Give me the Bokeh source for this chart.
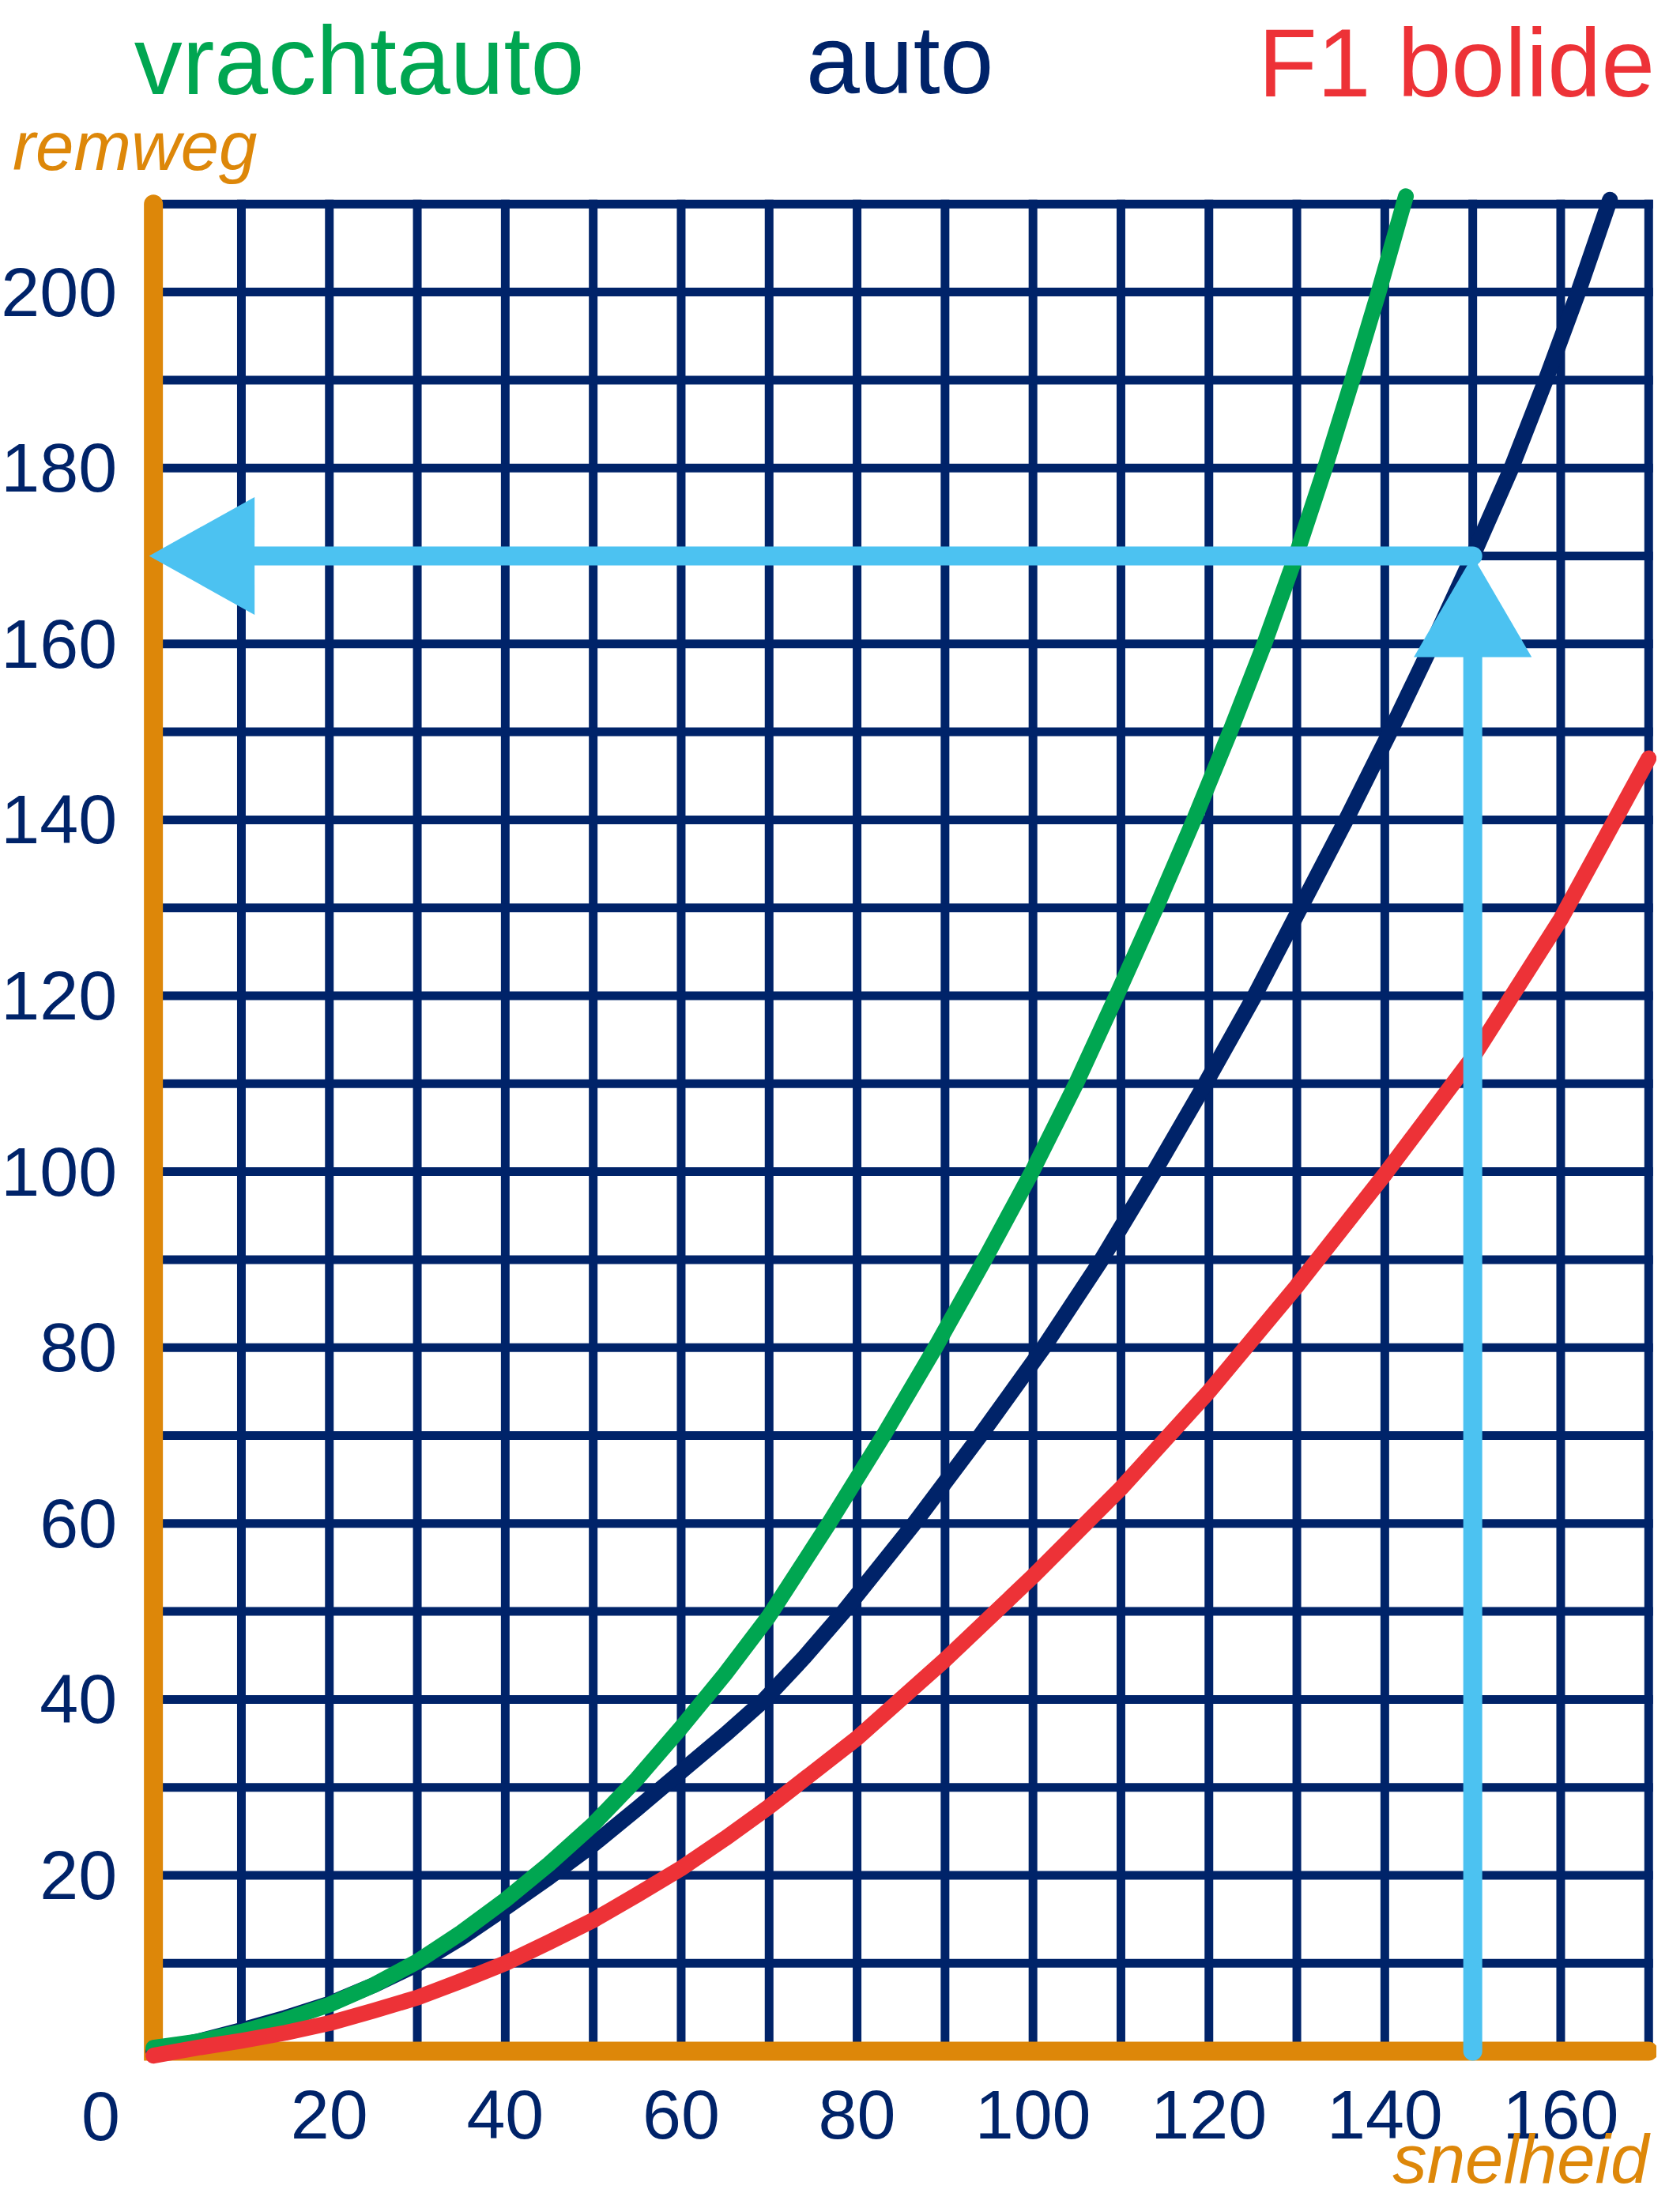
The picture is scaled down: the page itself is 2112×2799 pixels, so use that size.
from bokeh.plotting import figure
from bokeh.models import Label, FixedTicker
from bokeh.embed import file_html
from bokeh.resources import INLINE

# ---------------- data ----------------
# vrachtauto (truck): speed (km/h) -> braking distance (m)
truck_speed = [0, 5, 10, 15, 20, 25, 30, 35, 40, 45, 50, 55, 60, 65, 70,
               76.8, 83.0, 88.9, 94.5, 99.9, 104.9, 109.5, 114.0, 118.3, 122.4,
               126.3, 129.9, 133.2, 136.3, 139.3, 142.4]
truck_dist = [0.4, 1.1, 2.2, 3.6, 5.3, 7.5, 10.2, 13.5, 17.2, 21.3, 25.8, 31, 36.8, 42.9, 49.5,
              60, 70, 80, 90, 100, 110, 120, 130, 140, 150,
              160, 170, 180, 190, 200, 210.9]

# auto (car)
car_speed = [0, 5, 10, 15, 20, 25, 30, 35, 40, 45, 50, 55, 60, 65, 69.5, 74,
             78.5, 86.5, 94, 101.2, 107.8, 113.8, 119.6, 125.2, 130.4, 135.6,
             140.6, 145.4, 150, 154.4, 158.3, 162, 165.6]
car_dist = [0, 1.1, 2.4, 3.8, 5.4, 7.5, 9.9, 12.9, 16.3, 19.8, 23.5, 27.6, 31.8, 36.0, 40, 44.8,
            50, 60, 70, 80, 90, 100, 110, 120, 130, 140,
            150, 160, 170, 180, 190, 200, 210.5]

# F1 bolide
f1_speed = [0, 5, 10, 15, 20, 25, 30, 35, 40, 45, 50, 55, 60, 65, 70,
            80, 90, 100, 110, 120, 130, 140, 150, 160, 170]
f1_dist = [-0.5, 0.4, 1.2, 2.1, 3.2, 4.6, 6.1, 8, 10, 12.4, 14.9, 17.8, 20.8, 24.2, 27.8,
           35.6, 44.5, 54, 64, 75, 87, 99.7, 113, 128.7, 147]

# axis ticks / grid
x_ticks = [20, 40, 60, 80, 100, 120, 140, 160]
y_ticks = [20, 40, 60, 80, 100, 120, 140, 160, 180, 200]
grid_x = [10, 20, 30, 40, 50, 60, 70, 80, 90, 100, 110, 120, 130, 140, 150, 160, 170]
grid_y = [10, 20, 30, 40, 50, 60, 70, 80, 90, 100, 110, 120, 130, 140, 150, 160,
          170, 180, 190, 200, 210]

# reading example (arrow)
read_speed = 150
read_dist = 170

# ---------------- style ----------------
NAVY = "#002369"
GREEN = "#00A651"
RED = "#ED3237"
ORANGE = "#DD8709"
BLUE = "#4CC2F1"
FONT = "Liberation Sans"

x_max = grid_x[-1]
y_max = grid_y[-1]

p = figure(frame_width=2096, frame_height=2783,
           x_range=(-17.40, 170.92), y_range=(-16.88, 233.16),
           output_backend="svg", toolbar_location=None,
           min_border_left=0, min_border_right=0,
           min_border_top=0, min_border_bottom=0)

p.background_fill_color = "white"
p.border_fill_color = "white"
p.outline_line_color = None
p.xgrid.visible = False
p.ygrid.visible = False

for ax, ticks in ((p.xaxis[0], x_ticks), (p.yaxis[0], y_ticks)):
    ax.ticker = FixedTicker(ticks=ticks)
    ax.fixed_location = 0
    ax.axis_line_color = None
    ax.major_tick_line_color = None
    ax.minor_tick_line_color = None
    ax.major_tick_in = 0
    ax.major_tick_out = 0
    ax.major_label_text_font = FONT
    ax.major_label_text_font_size = "88px"
    ax.major_label_text_color = NAVY
p.yaxis[0].major_label_standoff = 46
p.xaxis[0].major_label_standoff = 50

# grid
p.segment(x0=grid_x, y0=[0] * len(grid_x), x1=grid_x, y1=[y_max] * len(grid_x),
          line_width=11, line_color=NAVY, line_cap="square")
p.segment(x0=[0] * len(grid_y), y0=grid_y, x1=[x_max] * len(grid_y), y1=grid_y,
          line_width=11, line_color=NAVY, line_cap="square")

# orange axes
p.line([0, 0, x_max], [y_max, 0, 0], line_width=24, line_color=ORANGE,
       line_cap="round", line_join="miter")

# curves
p.line(car_speed, car_dist, line_width=20, line_color=NAVY,
       line_cap="round", line_join="round")
p.line(truck_speed, truck_dist, line_width=20, line_color=GREEN,
       line_cap="round", line_join="round")
p.line(f1_speed, f1_dist, line_width=20, line_color=RED,
       line_cap="round", line_join="round")

# reading arrows
head_len = 11.5
head_half = 6.7
p.line([head_len, read_speed], [read_dist, read_dist], line_width=24,
       line_color=BLUE, line_cap="round")
p.line([read_speed, read_speed], [0, read_dist - head_len], line_width=24,
       line_color=BLUE, line_cap="round")
p.patches(xs=[[-0.5, head_len, head_len],
              [read_speed, read_speed - head_half, read_speed + head_half]],
          ys=[[read_dist, read_dist + head_half, read_dist - head_half],
              [read_dist, read_dist - head_len, read_dist - head_len]],
          fill_color=BLUE, line_color=None)

# texts
def add_label(x, y, text, color, size, align="left", style="normal"):
    p.add_layout(Label(x=x, y=y, text=text, text_color=color,
                       text_font=FONT, text_font_size=size,
                       text_font_style=style, text_align=align,
                       text_baseline="alphabetic"))

add_label(-2.2, 226.3, "vrachtauto", GREEN, "122px")
add_label(74.2, 226.4, "auto", NAVY, "122px")
add_label(170.7, 226.0, "F1 bolide", RED, "122px", align="right")
add_label(-16.0, 216.6, "remweg", ORANGE, "87px", style="italic")
add_label(170.0, -12.2, "snelheid", ORANGE, "87px", align="right", style="italic")
add_label(-6.0, -7.4, "0", NAVY, "88px", align="center")

open("out.html", "w").write(file_html(p, INLINE))
